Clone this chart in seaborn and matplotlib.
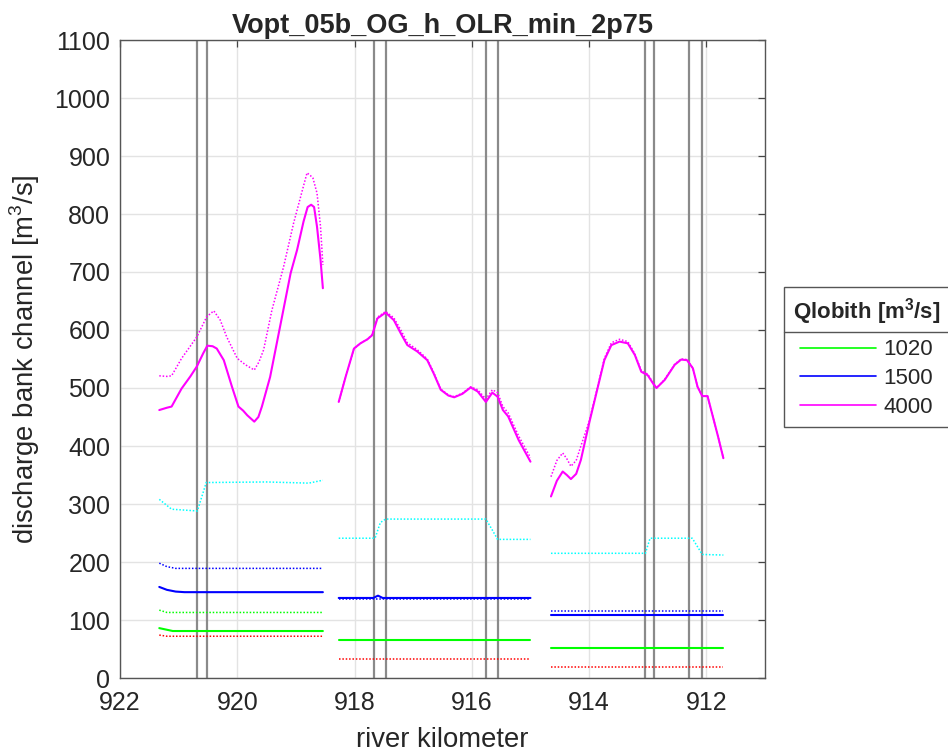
import matplotlib
matplotlib.use("Agg")
import matplotlib.pyplot as plt
from matplotlib.lines import Line2D
import numpy as np
import pandas as pd
import seaborn as sns

# ---------------- data ----------------
# river kilometres of the structure markers (vertical lines)
marker_km = [920.68, 920.52, 917.67, 917.47, 915.75, 915.56,
             913.04, 912.89, 912.29, 912.07]

# Q = 4000 m3/s, reach 1
km_4000_s1 = [921.33, 921.2, 921.12, 920.95, 920.8, 920.69, 920.58, 920.51,
              920.42, 920.35, 920.23, 920.09, 919.98, 919.9, 919.83, 919.71,
              919.64, 919.58, 919.44, 919.26, 919.09, 918.98, 918.87, 918.8,
              918.74, 918.69, 918.64, 918.58, 918.54]
q_4000_s1 = [462, 466, 468, 499, 520, 537, 560, 573, 572, 568, 548, 502,
             468, 461, 453, 442, 450, 468, 519, 611, 698, 738, 787, 812,
             816, 812, 778, 721, 672]
km_4000b_s1 = [921.33, 921.2, 921.12, 920.95, 920.69, 920.52, 920.4, 920.29,
               920.18, 920.0, 919.86, 919.71, 919.63, 919.55, 919.41, 919.21,
               919.04, 918.89, 918.81, 918.75, 918.71, 918.64, 918.58, 918.54]
q_4000b_s1 = [521, 520, 521, 551, 588, 623, 633, 617, 588, 551, 540, 531,
              545, 566, 634, 709, 784, 841, 871, 866, 862, 836, 778, 712]

# Q = 4000 m3/s, reach 2
km_4000_s2 = [918.27, 918.15, 918.01, 917.9, 917.78, 917.7, 917.61, 917.47,
              917.33, 917.2, 917.1, 916.93, 916.76, 916.65, 916.53, 916.4,
              916.3, 916.16, 916.02, 915.9, 915.76, 915.65, 915.56, 915.47,
              915.38, 915.2, 915.0]
q_4000_s2 = [476, 520, 568, 577, 584, 591, 620, 630, 617, 592, 574, 563,
             548, 525, 497, 487, 484, 490, 501, 494, 476, 492, 485, 462,
             451, 410, 373]
q_4000b_s2 = [476, 520, 568, 577, 584, 592, 622, 632, 621, 598, 578, 566,
              550, 527, 498, 488, 485, 491, 502, 497, 481, 497, 492, 468,
              457, 417, 380]

# Q = 4000 m3/s, reach 3
km_4000_s3 = [914.65, 914.55, 914.45, 914.38, 914.31, 914.22, 914.14, 914.0,
              913.85, 913.74, 913.62, 913.48, 913.34, 913.22, 913.11, 913.0,
              912.91, 912.85, 912.71, 912.54, 912.43, 912.33, 912.23, 912.15,
              912.07, 911.98, 911.89, 911.8, 911.71]
q_4000_s3 = [313, 340, 356, 350, 343, 352, 376, 439, 502, 548, 574, 580,
             577, 557, 528, 522, 508, 500, 514, 540, 549, 548, 534, 502,
             486, 486, 451, 416, 379]
q_4000b_s3 = [347, 375, 388, 378, 365, 375, 400, 442, 504, 551, 578, 584,
              580, 559, 530, 524, 509, 500, 515, 541, 550, 549, 534, 502,
              486, 486, 451, 416, 379]

# secondary channel (cyan), per reach
km_cyan_s1 = [921.33, 921.12, 920.68, 920.53, 919.5, 918.78, 918.54]
q_cyan_s1 = [308, 291, 288, 337, 338, 336, 341]
km_cyan_s2 = [918.27, 917.65, 917.56, 917.47, 915.76, 915.65, 915.56, 915.0]
q_cyan_s2 = [241, 241, 268, 274, 274, 255, 239, 239]
km_cyan_s3 = [914.65, 913.04, 912.96, 912.24, 912.07, 911.71]
q_cyan_s3 = [215, 215, 241, 241, 213, 212]

# Q = 1500 m3/s
km_1500_s1 = [921.33, 921.2, 921.05, 920.9, 918.54]
q_1500_s1 = [157, 152, 149, 148, 148]
km_1500b_s1 = [921.33, 921.2, 921.05, 918.54]
q_1500b_s1 = [198, 192, 189, 189]
km_1500_s2 = [918.27, 917.68, 917.6, 917.52, 915.0]
q_1500_s2 = [138, 138, 142, 138, 138]
km_1500b_s2 = [918.27, 915.0]
q_1500b_s2 = [137, 137]
km_s3 = [914.65, 911.71]
q_1500_s3 = [108, 108]
q_1500b_s3 = [116, 116]

# Q = 1020 m3/s
km_1020_s1 = [921.33, 921.1, 918.54]
q_1020_s1 = [86, 81, 81]
km_1020b_s1 = [921.33, 921.2, 918.54]
q_1020b_s1 = [117, 113, 113]
km_s2 = [918.27, 915.0]
q_1020_s2 = [65, 65]
q_1020b_s2 = [66, 66]
q_1020_s3 = [52, 52]
q_1020b_s3 = [52, 52]

# red dotted reference
km_red_s1 = [921.33, 921.2, 918.54]
q_red_s1 = [74, 72, 72]
q_red_s2 = [33, 33]
q_red_s3 = [19, 19]

legend_labels = ["1020", "1500", "4000"]
legend_colors = ["#00ff00", "#0000ff", "#ff00ff"]

# ---------------- build table ----------------
pieces = [
    ("4000", "solid", 1, km_4000_s1, q_4000_s1),
    ("4000", "dot", 1, km_4000b_s1, q_4000b_s1),
    ("4000", "solid", 2, km_4000_s2, q_4000_s2),
    ("4000", "dot", 2, km_4000_s2, q_4000b_s2),
    ("4000", "solid", 3, km_4000_s3, q_4000_s3),
    ("4000", "dot", 3, km_4000_s3, q_4000b_s3),
    ("side", "dot", 1, km_cyan_s1, q_cyan_s1),
    ("side", "dot", 2, km_cyan_s2, q_cyan_s2),
    ("side", "dot", 3, km_cyan_s3, q_cyan_s3),
    ("1500", "solid", 1, km_1500_s1, q_1500_s1),
    ("1500", "dot", 1, km_1500b_s1, q_1500b_s1),
    ("1500", "solid", 2, km_1500_s2, q_1500_s2),
    ("1500", "dot", 2, km_1500b_s2, q_1500b_s2),
    ("1500", "solid", 3, km_s3, q_1500_s3),
    ("1500", "dot", 3, km_s3, q_1500b_s3),
    ("1020", "solid", 1, km_1020_s1, q_1020_s1),
    ("1020", "dot", 1, km_1020b_s1, q_1020b_s1),
    ("1020", "solid", 2, km_s2, q_1020_s2),
    ("1020", "dot", 2, km_s2, q_1020b_s2),
    ("1020", "solid", 3, km_s3, q_1020_s3),
    ("1020", "dot", 3, km_s3, q_1020b_s3),
    ("ref", "dot", 1, km_red_s1, q_red_s1),
    ("ref", "dot", 2, km_s2, q_red_s2),
    ("ref", "dot", 3, km_s3, q_red_s3),
]
frames = []
for name, style, seg, km, q in pieces:
    frames.append(pd.DataFrame({"km": km, "Q": q, "series": name,
                                "style": style, "reach": seg}))
df = pd.concat(frames, ignore_index=True)

colors = {"4000": "#ff00ff", "1500": "#0000ff", "1020": "#00ff00",
          "side": "#00ffff", "ref": "#ff0000"}

# ---------------- figure ----------------
sns.set_style("white")
plt.rcParams["font.family"] = ["Liberation Sans", "DejaVu Sans"]
plt.rcParams["mathtext.fontset"] = "custom"
plt.rcParams["mathtext.rm"] = "Liberation Sans"
plt.rcParams["mathtext.bf"] = "Liberation Sans:bold"

fig = plt.figure(figsize=(9.48, 7.55), dpi=100)
ax = fig.add_axes([120 / 948, 1 - 678 / 755, (765 - 120) / 948, (678 - 40) / 755])

for km in marker_km:
    ax.axvline(km, color="#8a8a8a", lw=1.6, zorder=2)

for (name, style, seg), sub in df.groupby(["series", "style", "reach"], sort=False):
    if style == "solid":
        sns.lineplot(data=sub, x="km", y="Q", ax=ax, color=colors[name],
                     lw=1.5, estimator=None, sort=False, legend=False, zorder=3)
    else:
        sns.lineplot(data=sub, x="km", y="Q", ax=ax, color=colors[name],
                     lw=1.1, linestyle=(0, (1, 1.2)), estimator=None,
                     sort=False, legend=False, zorder=3)

ax.set_xlim(922, 911)
ax.set_ylim(0, 1100)
ax.set_xticks(np.arange(922, 910, -2))
ax.set_yticks(np.arange(0, 1101, 100))
ax.grid(True, color="#e3e3e3", lw=1.0)
ax.set_axisbelow(True)
for sp in ax.spines.values():
    sp.set_color("#555555")
    sp.set_linewidth(1.0)
ax.tick_params(direction="in", top=True, right=True, length=5, width=0.9,
               color="#444444", labelcolor="#262626", labelsize=18)
ax.tick_params(axis="x", pad=9)
ax.tick_params(axis="y", pad=7)

ax.set_xlabel("river kilometer", fontsize=19.8, color="#262626", labelpad=9)
ax.set_ylabel("discharge bank channel [m$^3$/s]", fontsize=19.8,
              color="#262626", labelpad=9)
ax.set_title("Vopt_05b_OG_h_OLR_min_2p75", fontsize=19.5, fontweight="bold",
             pad=5)

handles = [Line2D([], [], color=c, lw=1.2) for c in legend_colors]
leg = ax.legend(handles, legend_labels, title="Qlobith [m$^\\mathbf{3}$/s]",
                loc="upper left", bbox_to_anchor=(784 / 948, 1 - 287 / 755),
                bbox_transform=fig.transFigure, borderaxespad=0,
                fontsize=16, title_fontproperties={"weight": "bold", "size": 16},
                frameon=True, fancybox=False, framealpha=1, edgecolor="#555555",
                handlelength=3.4, handletextpad=0.36, labelspacing=0.35,
                borderpad=0.4, alignment="center")
leg.get_frame().set_linewidth(1.0)
# a little more room between the title and the entries
leg._legend_box.sep = 9
for t in leg.get_texts():
    t.set_color("#262626")

# separator line below the legend title
fig.canvas.draw()
inv = fig.transFigure.inverted()
fb = inv.transform(leg.get_frame().get_window_extent())
tb = inv.transform(leg.get_title().get_window_extent())
ysep = tb[0][1] - 5 / 755
fig.add_artist(Line2D([fb[0][0], fb[1][0]], [ysep, ysep], color="#555555",
                      lw=1.0, transform=fig.transFigure))

fig.savefig("out.png", dpi=100)
